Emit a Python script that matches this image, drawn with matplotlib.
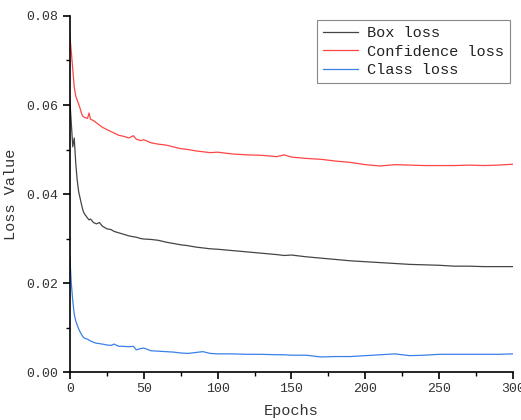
import numpy as np
import matplotlib
matplotlib.use("Agg")
import matplotlib.pyplot as plt
from matplotlib.ticker import MultipleLocator

plt.rcParams['font.family'] = ['Liberation Mono', 'DejaVu Sans']

# training epochs at which the losses were read
epochs = [0, 1, 2, 3, 4, 5, 6, 7, 8, 9, 10, 12, 13, 14, 16, 18, 20, 22, 25, 28,
          30, 33, 36, 40, 43, 45, 48, 50, 55, 60, 65, 70, 75, 80, 85, 90, 95, 100,
          110, 120, 130, 140, 145, 150, 160, 170, 180, 190, 200, 210, 220, 230,
          240, 250, 260, 270, 280, 290, 300]

box_loss = [0.0611, 0.0560, 0.0506, 0.0526, 0.0470, 0.0431, 0.0405, 0.0390, 0.0375,
            0.0362, 0.0355, 0.0346, 0.0342, 0.0344, 0.0336, 0.0333, 0.0336, 0.0328,
            0.0322, 0.0320, 0.0316, 0.0313, 0.0310, 0.0306, 0.0304, 0.0303, 0.0300,
            0.0299, 0.0298, 0.0296, 0.0292, 0.0289, 0.0286, 0.0284, 0.0281, 0.0279,
            0.0277, 0.0276, 0.0273, 0.0270, 0.0267, 0.0264, 0.0262, 0.0263, 0.0259,
            0.0256, 0.0253, 0.0250, 0.0248, 0.0246, 0.0244, 0.0242, 0.0241, 0.0240,
            0.0238, 0.0238, 0.0237, 0.0237, 0.0237]

conf_loss = [0.0757, 0.0720, 0.0680, 0.0640, 0.0620, 0.0611, 0.0602, 0.0592, 0.0580,
             0.0574, 0.0572, 0.0570, 0.0582, 0.0568, 0.0565, 0.0560, 0.0555, 0.0550,
             0.0545, 0.0540, 0.0537, 0.0532, 0.0530, 0.0526, 0.0531, 0.0523, 0.0520,
             0.0522, 0.0515, 0.0512, 0.0510, 0.0506, 0.0502, 0.0500, 0.0497, 0.0495,
             0.0493, 0.0494, 0.0490, 0.0488, 0.0487, 0.0484, 0.0488, 0.0483, 0.0480,
             0.0478, 0.0474, 0.0471, 0.0466, 0.0463, 0.0466, 0.0465, 0.0464, 0.0464,
             0.0464, 0.0465, 0.0464, 0.0465, 0.0467]

cls_loss = [0.0259, 0.0200, 0.0160, 0.0130, 0.0115, 0.0106, 0.0097, 0.0090, 0.0084,
            0.0079, 0.0076, 0.0074, 0.0072, 0.0070, 0.0067, 0.0065, 0.0064, 0.0063,
            0.0061, 0.0060, 0.0063, 0.0058, 0.0058, 0.0057, 0.0058, 0.0050, 0.0053,
            0.0054, 0.0048, 0.0047, 0.0046, 0.0045, 0.0043, 0.0042, 0.0044, 0.0046,
            0.0042, 0.0041, 0.0041, 0.0040, 0.0040, 0.0039, 0.0039, 0.0038, 0.0038,
            0.0034, 0.0035, 0.0035, 0.0037, 0.0039, 0.0041, 0.0037, 0.0038, 0.0040,
            0.0040, 0.0040, 0.0040, 0.0040, 0.0041]

fig = plt.figure(figsize=(5.21, 4.2), dpi=100)
ax = fig.add_axes([0.134, 0.114, 0.851, 0.848])

ax.plot(epochs, box_loss, color='#454545', lw=0.9, label='Box loss')
ax.plot(epochs, conf_loss, color='#ff4545', lw=0.9, label='Confidence loss')
ax.plot(epochs, cls_loss, color='#3a80e8', lw=0.9, label='Class loss')

ax.set_xlim(0, 300)
ax.set_ylim(0, 0.08)
ax.xaxis.set_major_locator(MultipleLocator(50))
ax.xaxis.set_minor_locator(MultipleLocator(25))
ax.yaxis.set_major_locator(MultipleLocator(0.02))
ax.yaxis.set_minor_locator(MultipleLocator(0.01))
ax.yaxis.set_major_formatter(plt.FormatStrFormatter('%.2f'))

for side in ['top', 'right']:
    ax.spines[side].set_visible(False)
for side in ['left', 'bottom']:
    ax.spines[side].set_linewidth(1.2)
ax.tick_params(which='major', direction='out', length=5, width=1.2, labelsize=9.5,
               labelcolor='#333333', pad=3)
ax.tick_params(which='minor', direction='out', length=3, width=1.0)

ax.set_xlabel('Epochs', fontsize=11, color='#333333', labelpad=6)
ax.set_ylabel('Loss Value', fontsize=11, color='#333333', labelpad=6)

leg = ax.legend(loc='upper right', fontsize=11, fancybox=False, edgecolor='#888888',
                framealpha=1, handlelength=2.3, handletextpad=0.6, labelspacing=0.3,
                borderpad=0.4, borderaxespad=0, bbox_to_anchor=(0.993, 0.989))
leg.get_frame().set_linewidth(0.8)
for t in leg.get_texts():
    t.set_color('#222222')

fig.savefig('out.png', dpi=100)
